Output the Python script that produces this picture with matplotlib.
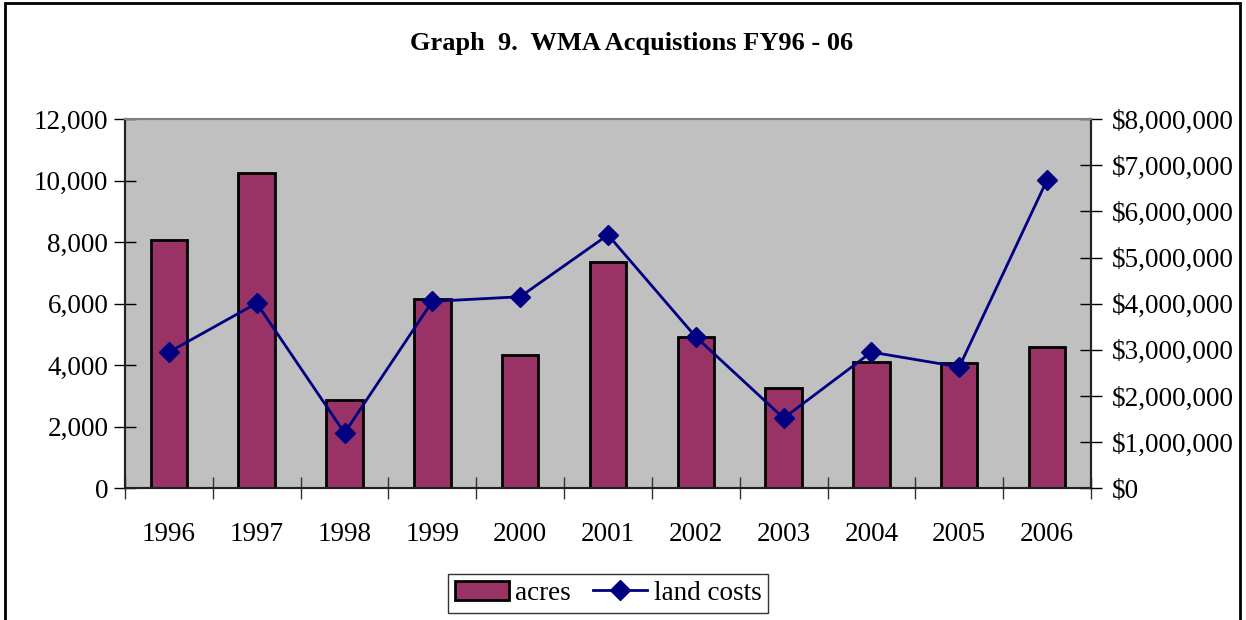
import matplotlib
matplotlib.use("Agg")
import matplotlib.pyplot as plt
import matplotlib.ticker as mticker
from matplotlib.patches import Rectangle
from matplotlib.lines import Line2D
import numpy as np

years = ["1996", "1997", "1998", "1999", "2000", "2001", "2002", "2003", "2004", "2005", "2006"]
acres = [8060, 10250, 2870, 6150, 4330, 7345, 4910, 3270, 4115, 4065, 4585]
land_costs = [2950000, 4010000, 1200000, 4050000, 4150000, 5490000, 3280000, 1520000, 2950000, 2630000, 6680000]

BAR = "#993366"
LINE = "#000080"
FONT = "Liberation Serif"

plt.rcParams["font.family"] = FONT

fig = plt.figure(figsize=(12.46, 6.2), dpi=100)
ax = fig.add_axes([0.1003, 0.2124, 0.7753, 0.5956])
ax.set_facecolor("#C0C0C0")

xs = np.arange(len(years))
ax.bar(xs, acres, width=0.415, color=BAR, edgecolor="black", linewidth=2.0, zorder=2)
ax.set_xlim(-0.5, len(years) - 0.5)
ax.set_ylim(0, 12000)
ax.yaxis.set_major_locator(mticker.MultipleLocator(2000))
ax.yaxis.set_major_formatter(mticker.FuncFormatter(lambda v, p: f"{v:,.0f}"))

ax.set_xticks(xs)
ax.set_xticklabels(years, fontsize=19.5)
ax.set_xticks(np.arange(-0.5, len(years)), minor=True)
ax.tick_params(axis="x", which="major", length=0, pad=24)
ax.tick_params(axis="x", which="minor", direction="inout", length=16, width=1, color="#333333")
ax.tick_params(axis="y", direction="inout", length=16, width=1, labelsize=19.5, pad=4)

ax2 = ax.twinx()
ax2.plot(xs, land_costs, color=LINE, lw=2.0, marker="D", ms=10, zorder=3)
ax2.set_ylim(0, 8000000)
ax2.yaxis.set_major_locator(mticker.MultipleLocator(1000000))
ax2.yaxis.set_major_formatter(mticker.FuncFormatter(lambda v, p: f"${v:,.0f}"))
ax2.tick_params(axis="y", direction="inout", length=16, width=1, labelsize=19.5, pad=7)

for a in (ax, ax2):
    a.spines["top"].set_color("#808080")
    a.spines["top"].set_linewidth(1.5)
    for s in ("left", "bottom", "right"):
        a.spines[s].set_color("#222222")
        a.spines[s].set_linewidth(1.5)

fig.text(0.507, 0.93, "Graph  9.  WMA Acquistions FY96 - 06", ha="center", va="center",
         fontsize=19, fontweight="bold")

handles = [Rectangle((0, 0), 1, 1, facecolor=BAR, edgecolor="black", linewidth=2.0),
           Line2D([], [], color=LINE, lw=2.0, marker="D", ms=10)]
leg = fig.legend(handles, ["acres", "land costs"], loc="center", bbox_to_anchor=(0.488, 0.043),
                 ncol=2, fontsize=19.5, frameon=True, fancybox=False, handlelength=2.0,
                 handletextpad=0.25, columnspacing=0.8, borderpad=0.25)
leg.get_frame().set_edgecolor("black")
leg.get_frame().set_linewidth(1.0)

# outer frame around the whole chart
fig.patches.append(Rectangle((0.004, -0.05), 0.9915, 1.045, transform=fig.transFigure,
                             fill=False, edgecolor="black", linewidth=2.0))

fig.savefig("out.png", dpi=100)
